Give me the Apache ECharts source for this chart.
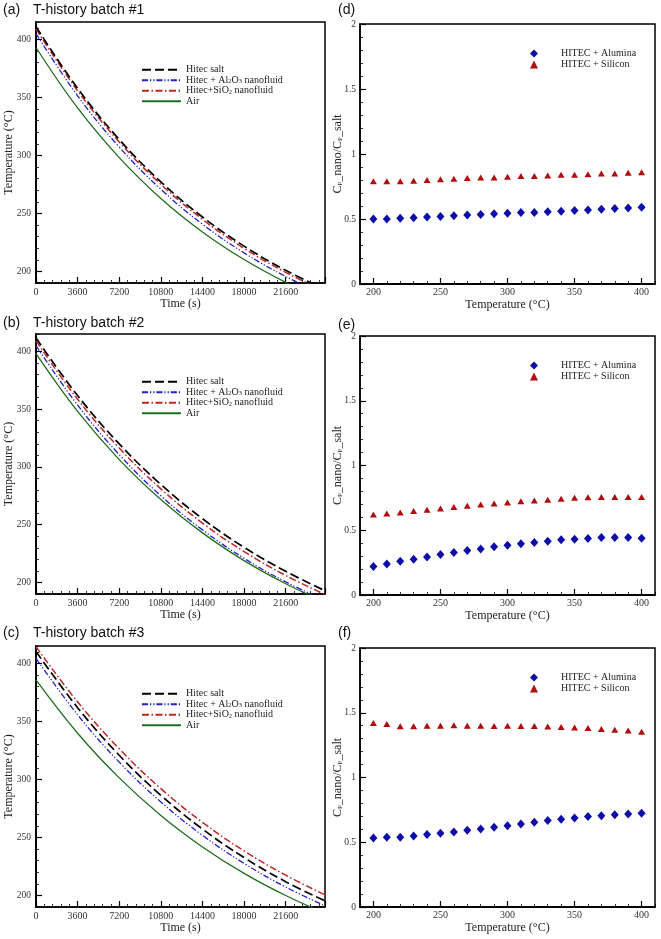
<!DOCTYPE html>
<html><head><meta charset="utf-8">
<script src="https://cdn.jsdelivr.net/npm/echarts@6/dist/echarts.min.js"></script>
<style>html,body{margin:0;padding:0;background:#fff}#c{width:661px;height:939px}</style>
</head><body><div id="c"></div>
<script>
// ---------- data ----------
const timeS = [0, 3600, 7200, 10800, 14400, 18000, 21600, 25000];
const timeTicks = [0, 3600, 7200, 10800, 14400, 18000, 21600];
const tempTicks = [200, 250, 300, 350, 400];
const cpTempTicks = [200, 250, 300, 350, 400];

// batch #1
const b1Salt = [411.0, 357.8, 313.7, 277.2, 246.9, 221.8, 200.9, 184.6];
const b1Al   = [405.0, 351.4, 307.2, 270.8, 240.7, 216.0, 195.6, 179.7];
const b1Si   = [409.0, 355.7, 311.6, 275.1, 244.9, 219.9, 199.2, 183.0];
const b1Air  = [393.0, 340.9, 298.1, 262.9, 234.0, 210.2, 190.6, 175.3];
// batch #2
const b2Salt = [411.5, 361.7, 319.9, 284.8, 255.2, 230.4, 209.6, 192.9];
const b2Al   = [405.0, 353.5, 310.6, 275.0, 245.5, 220.9, 200.5, 184.4];
const b2Si   = [409.0, 358.5, 316.3, 281.0, 251.4, 226.7, 206.0, 189.6];
const b2Air  = [398.0, 348.0, 306.3, 271.7, 242.9, 218.9, 198.9, 183.1];
// batch #3
const b3Salt = [410.3, 361.8, 320.8, 286.3, 257.2, 232.6, 211.8, 195.3];
const b3Al   = [404.3, 355.7, 314.9, 280.6, 251.8, 227.6, 207.2, 191.0];
const b3Si   = [414.4, 366.8, 326.4, 292.1, 263.0, 238.4, 217.4, 200.5];
const b3Air  = [385.7, 339.8, 301.3, 268.9, 241.8, 219.0, 199.9, 184.7];

// Cp ratio panels
const cpTemp = [200, 210, 220, 230, 240, 250, 260, 270, 280, 290, 300, 310, 320, 330, 340, 350, 360, 370, 380, 390, 400];
const dAlumina = [0.50, 0.50, 0.505, 0.51, 0.515, 0.52, 0.525, 0.53, 0.535, 0.54, 0.545, 0.55, 0.55, 0.555, 0.56, 0.565, 0.57, 0.575, 0.58, 0.585, 0.59];
const dSilicon = [0.79, 0.79, 0.79, 0.795, 0.80, 0.805, 0.81, 0.815, 0.82, 0.82, 0.825, 0.83, 0.83, 0.835, 0.84, 0.84, 0.845, 0.85, 0.85, 0.855, 0.86];
const eAlumina = [0.22, 0.24, 0.26, 0.276, 0.294, 0.312, 0.328, 0.343, 0.356, 0.372, 0.385, 0.395, 0.405, 0.415, 0.426, 0.431, 0.436, 0.444, 0.444, 0.444, 0.439];
const eSilicon = [0.622, 0.63, 0.637, 0.648, 0.658, 0.668, 0.679, 0.689, 0.699, 0.707, 0.715, 0.723, 0.73, 0.735, 0.743, 0.751, 0.754, 0.756, 0.756, 0.756, 0.756];
const fAlumina = [0.533, 0.538, 0.538, 0.548, 0.559, 0.569, 0.579, 0.592, 0.602, 0.615, 0.628, 0.641, 0.654, 0.667, 0.677, 0.687, 0.698, 0.705, 0.713, 0.718, 0.723];
const fSilicon = [1.421, 1.413, 1.395, 1.395, 1.40, 1.40, 1.403, 1.40, 1.40, 1.398, 1.40, 1.398, 1.398, 1.393, 1.39, 1.387, 1.382, 1.375, 1.369, 1.362, 1.354];

const lineNames = ['Hitec salt', 'Hitec + Al2O3 nanofluid', 'Hitec+SiO2 nanofluid', 'Air'];
const scatNames = ['HITEC + Alumina', 'HITEC + Silicon'];
const panelTitles = ['T-history batch #1', 'T-history batch #2', 'T-history batch #3'];
const leftLetters = ['(a)', '(b)', '(c)'];
const rightLetters = ['(d)', '(e)', '(f)'];

// ---------- layout / style ----------
const SERIF = 'Liberation Serif';
const SANS = 'Liberation Sans';
const leftGrids = [
  {left: 36, top: 22, width: 289, height: 261},
  {left: 36, top: 334, width: 289, height: 260},
  {left: 36, top: 646, width: 289, height: 261}
];
const rightGrids = [
  {left: 360, top: 24, width: 295, height: 260},
  {left: 360, top: 336, width: 295, height: 259},
  {left: 360, top: 648, width: 295, height: 259}
];
const leftTitleTops = [3, 316, 626];
const rightTitleTops = [3, 318, 626];
const lineStyles = [
  {color: '#000000', width: 1.7, type: [9, 4]},
  {color: '#2020c8', width: 1.3, type: [6, 2, 1.2, 2, 1.2, 2]},
  {color: '#c02626', width: 1.5, type: [7, 2.5, 1.5, 2.5]},
  {color: '#1e6e1e', width: 1.3, type: 'solid'}
];
const axisLineStyle = {lineStyle: {color: '#000', width: 1.5}};
const labelStyle = {fontFamily: SERIF, fontSize: 10, color: '#333'};
const nameStyle = {fontFamily: SERIF, fontSize: 12, color: '#222'};
const plainNum = v => String(v);

const grids = [], xAxes = [], yAxes = [], series = [], legends = [], titles = [];

function pairs(xs, ys) { return xs.map((x, i) => [x, ys[i]]); }

const batchData = [
  [b1Salt, b1Al, b1Si, b1Air],
  [b2Salt, b2Al, b2Si, b2Air],
  [b3Salt, b3Al, b3Si, b3Air]
];

leftGrids.forEach((g, i) => {
  const gi = grids.length;
  grids.push(Object.assign({show: true, borderColor: '#000', borderWidth: 1.5, outerBoundsMode: 'none', containLabel: false}, g));
  const xi = xAxes.length;
  xAxes.push({
    type: 'value', gridIndex: gi, min: 0, max: 25000, interval: 3600,
    axisLine: axisLineStyle,
    axisTick: {show: true, inside: true, length: 6, lineStyle: {color: '#000', width: 1.2}},
    minorTick: {show: true, splitNumber: 5, length: 3, lineStyle: {color: '#000', width: 0.8}},
    splitLine: {show: false}, minorSplitLine: {show: false},
    axisLabel: Object.assign({showMaxLabel: false, margin: 4, formatter: plainNum}, labelStyle),
    name: 'Time (s)', nameLocation: 'middle', nameGap: 15, nameMoveOverlap: false, nameTextStyle: nameStyle
  });
  yAxes.push({
    type: 'value', gridIndex: gi, position: 'left', min: 190, max: 415, interval: 10,
    axisLine: axisLineStyle,
    axisTick: {show: true, inside: true, length: 3, lineStyle: {color: '#000', width: 0.8}},
    axisLabel: {show: false}, splitLine: {show: false}
  });
  const yMajor = yAxes.length;
  yAxes.push({
    type: 'value', gridIndex: gi, position: 'left', offset: 0, min: 190, max: 415,
    axisLine: axisLineStyle,
    axisTick: {show: true, inside: true, length: 6, customValues: tempTicks, lineStyle: {color: '#000', width: 1.2}},
    axisLabel: Object.assign({customValues: tempTicks, margin: 5, formatter: plainNum}, labelStyle, {fontSize: 9.5}),
    splitLine: {show: false},
    name: 'Temperature (°C)', nameLocation: 'middle', nameRotate: 90, nameGap: 21, nameMoveOverlap: false,
    nameTextStyle: nameStyle
  });
  batchData[i].forEach((arr, k) => {
    series.push({
      type: 'line', name: lineNames[k], xAxisIndex: xi, yAxisIndex: yMajor,
      data: pairs(timeS, arr), smooth: 0.4, symbol: 'none', clip: true,
      lineStyle: lineStyles[k], itemStyle: {color: lineStyles[k].color}, z: 5 - k
    });
  });
  legends.push({
    orient: 'vertical', left: 141, top: g.top + 42.7, padding: 0, itemWidth: 39, itemHeight: 8, itemGap: 0.5,
    data: lineNames, selectedMode: false,
    itemStyle: {opacity: 0},
    formatter: n => n.replace('Al2O3', 'Al{s|2}O{s|3}').replace('SiO2', 'SiO{s|2}'),
    textStyle: {fontFamily: SERIF, fontSize: 10, color: '#222', lineHeight: 10,
      rich: {s: {fontFamily: SERIF, fontSize: 6.5, lineHeight: 5, verticalAlign: 'bottom', color: '#222'}}}
  });
  titles.push({text: leftLetters[i], left: 3, top: leftTitleTops[i], padding: 0,
    textStyle: {fontFamily: SANS, fontSize: 14, fontWeight: 'normal', color: '#111'}});
  titles.push({text: panelTitles[i], left: 33, top: leftTitleTops[i], padding: 0,
    textStyle: {fontFamily: SANS, fontSize: 14, fontWeight: 'normal', color: '#111'}});
});

const cpData = [[dAlumina, dSilicon], [eAlumina, eSilicon], [fAlumina, fSilicon]];

rightGrids.forEach((g, i) => {
  const gi = grids.length;
  grids.push(Object.assign({show: true, borderColor: '#000', borderWidth: 1.5, outerBoundsMode: 'none', containLabel: false}, g));
  xAxes.push({
    type: 'value', gridIndex: gi, position: 'bottom', min: 190, max: 410, interval: 10,
    axisLine: axisLineStyle,
    axisTick: {show: true, inside: true, length: 3, lineStyle: {color: '#000', width: 0.8}},
    axisLabel: {show: false}, splitLine: {show: false}
  });
  const xMajor = xAxes.length;
  xAxes.push({
    type: 'value', gridIndex: gi, position: 'bottom', offset: 0, min: 190, max: 410,
    axisLine: axisLineStyle,
    axisTick: {show: true, inside: true, length: 6, customValues: cpTempTicks, lineStyle: {color: '#000', width: 1.2}},
    axisLabel: Object.assign({customValues: cpTempTicks, margin: 3, formatter: plainNum}, labelStyle),
    splitLine: {show: false},
    name: 'Temperature (°C)', nameLocation: 'middle', nameGap: 15, nameMoveOverlap: false, nameTextStyle: nameStyle
  });
  const yi = yAxes.length;
  yAxes.push({
    type: 'value', gridIndex: gi, position: 'left', min: 0, max: 2, interval: 0.5,
    axisLine: axisLineStyle,
    axisTick: {show: true, inside: true, length: 6, lineStyle: {color: '#000', width: 1.2}},
    minorTick: {show: true, splitNumber: 5, length: 3, lineStyle: {color: '#000', width: 0.8}},
    splitLine: {show: false}, minorSplitLine: {show: false},
    axisLabel: Object.assign({margin: 4}, labelStyle, {fontSize: 9.5}),
    name: 'C{s|P}_nano/C{s|P}_salt', nameLocation: 'middle', nameRotate: 90, nameGap: 16, nameMoveOverlap: false,
    nameTextStyle: Object.assign({}, nameStyle, {lineHeight: 12,
      rich: {s: {fontFamily: SERIF, fontSize: 7, lineHeight: 5, verticalAlign: 'bottom', color: '#222'}}})
  });
  series.push({
    type: 'scatter', name: scatNames[0], xAxisIndex: xMajor, yAxisIndex: yi,
    data: pairs(cpTemp, cpData[i][0]), symbol: 'diamond', symbolSize: [8, 9],
    itemStyle: {color: '#0c0ca8', opacity: 1}
  });
  series.push({
    type: 'scatter', name: scatNames[1], xAxisIndex: xMajor, yAxisIndex: yi,
    data: pairs(cpTemp, cpData[i][1]), symbol: 'triangle', symbolSize: [7, 6],
    itemStyle: {color: '#b00e0e', opacity: 1}
  });
  legends.push({
    orient: 'vertical', left: 530, top: g.top + 24, padding: 0, itemWidth: 8, itemHeight: 8, itemGap: 0,
    data: scatNames, selectedMode: false,
    textStyle: {fontFamily: SERIF, fontSize: 10, color: '#222', lineHeight: 11, padding: [0, 0, 0, 18]}
  });
  titles.push({text: rightLetters[i], left: 338, top: rightTitleTops[i], padding: 0,
    textStyle: {fontFamily: SANS, fontSize: 14, fontWeight: 'normal', color: '#111'}});
});

const chart = echarts.init(document.getElementById('c'), null, {renderer: 'canvas'});
chart.setOption({
  backgroundColor: '#fff',
  animation: false,
  title: titles,
  legend: legends,
  grid: grids,
  xAxis: xAxes,
  yAxis: yAxes,
  series: series
});
</script>
</body></html>
